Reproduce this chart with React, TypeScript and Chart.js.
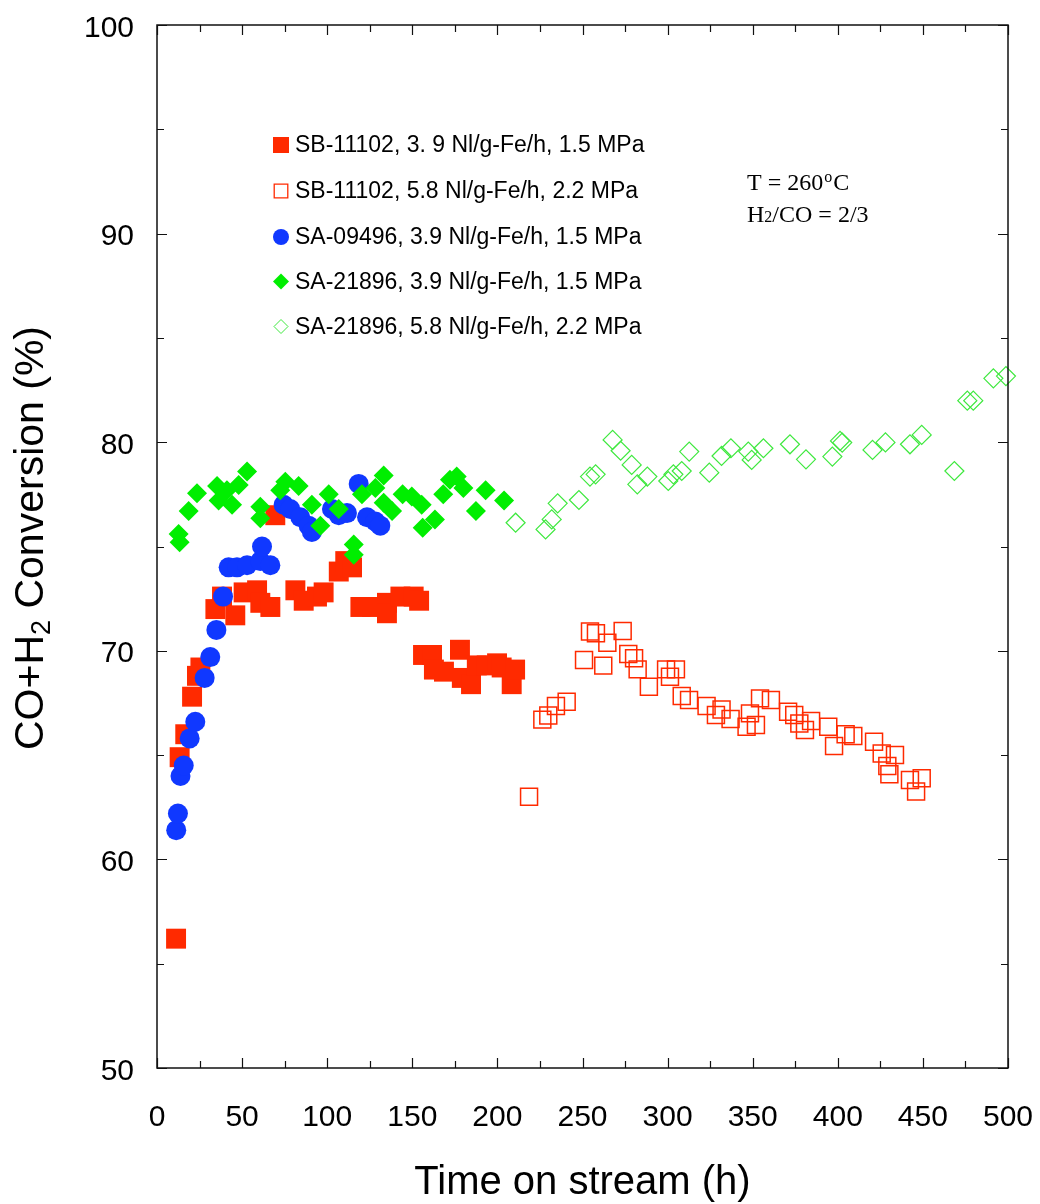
import React, { useEffect, useRef } from "react";
import { Chart, registerables } from "chart.js";

Chart.register(...registerables);

// ---------- data ----------
const xTicks = [0, 50, 100, 150, 200, 250, 300, 350, 400, 450, 500];
const yTicks = [50, 60, 70, 80, 90, 100];

const legendLabels = [
  "SB-11102, 3. 9 Nl/g-Fe/h, 1.5 MPa",
  "SB-11102, 5.8 Nl/g-Fe/h, 2.2 MPa",
  "SA-09496, 3.9 Nl/g-Fe/h, 1.5 MPa",
  "SA-21896, 3.9 Nl/g-Fe/h, 1.5 MPa",
  "SA-21896, 5.8 Nl/g-Fe/h, 2.2 MPa",
];

// SB-11102, 3.9 Nl/g-Fe/h, 1.5 MPa (filled red squares)
const sbLowX = [11.2, 13.3, 16.6, 20.6, 23.5, 25.5, 34.3, 38.2, 46.0, 50.9, 58.8, 60.7, 66.6, 69.5, 81.3, 86.2, 94.0, 97.9, 106.8, 110.6, 114.6, 119.5, 126.3, 135.1, 135.1, 143.0, 150.8, 154.0, 156.3, 161.6, 162.7, 168.6, 178.0, 179.1, 184.5, 187.9, 193.7, 199.8, 202.5, 208.4, 210.4];
const sbLowY = [56.2, 64.9, 66.0, 67.8, 68.8, 69.2, 72.0, 72.6, 71.7, 72.8, 72.9, 72.3, 72.1, 76.5, 72.9, 72.4, 72.6, 72.8, 73.8, 74.3, 74.0, 72.1, 72.1, 72.3, 71.8, 72.6, 72.6, 72.4, 69.8, 69.8, 69.1, 69.0, 70.05, 68.7, 68.4, 69.3, 69.3, 69.4, 69.2, 68.4, 69.1];

// SB-11102, 5.8 Nl/g-Fe/h, 2.2 MPa (open red squares)
const sbHighX = [218.6, 226.4, 229.9, 234.4, 240.7, 250.9, 254.4, 257.9, 262.2, 264.6, 273.6, 276.9, 280.3, 282.4, 289.0, 299.1, 301.4, 304.9, 308.3, 312.6, 322.9, 328.4, 331.7, 337.0, 346.4, 348.4, 351.9, 354.3, 360.7, 370.8, 374.4, 377.4, 380.7, 384.3, 394.4, 397.8, 404.6, 409.1, 421.3, 425.8, 433.6, 429.1, 430.3, 442.4, 449.3, 446.0];
const sbHighY = [63.0, 66.7, 66.9, 67.35, 67.56, 69.56, 70.92, 70.84, 69.29, 70.39, 70.95, 69.85, 69.64, 69.11, 68.28, 69.11, 68.76, 69.11, 67.83, 67.64, 67.35, 66.92, 67.19, 66.73, 66.36, 67.0, 66.44, 67.72, 67.64, 67.08, 66.92, 66.52, 66.2, 66.63, 66.36, 65.44, 66.0, 65.92, 65.64, 65.08, 65.0, 64.48, 64.08, 63.81, 63.89, 63.25];

// SA-09496, 3.9 Nl/g-Fe/h, 1.5 MPa (blue circles)
const sa09X = [11.3, 12.3, 13.8, 15.7, 19.2, 22.5, 28.0, 31.3, 34.9, 38.8, 42.1, 47.0, 52.9, 60.7, 61.7, 66.6, 74.4, 78.3, 84.2, 89.1, 91.0, 102.8, 106.8, 111.6, 118.5, 123.4, 128.3, 131.2];
const sa09Y = [61.4, 62.2, 64.0, 64.5, 65.8, 66.6, 68.7, 69.7, 71.0, 72.6, 74.0, 74.0, 74.1, 74.3, 75.0, 74.1, 77.0, 76.8, 76.4, 76.0, 75.7, 76.8, 76.5, 76.6, 78.0, 76.4, 76.2, 76.0];

// SA-21896, 3.9 Nl/g-Fe/h, 1.5 MPa (filled green diamonds)
const sa21LowX = [12.7, 13.3, 18.6, 23.5, 35.3, 36.2, 41.1, 44.1, 48.0, 52.9, 60.7, 60.7, 72.4, 75.4, 83.2, 91.0, 96.0, 100.9, 106.8, 115.6, 115.6, 120.4, 128.3, 133.2, 133.2, 138.1, 144.3, 149.7, 155.5, 156.1, 163.3, 168.2, 172.1, 176.1, 180.0, 187.4, 193.1, 203.9];
const sa21LowY = [75.6, 75.2, 76.7, 77.55, 77.9, 77.2, 77.7, 77.0, 77.95, 78.6, 76.9, 76.35, 77.7, 78.1, 77.9, 77.0, 76.0, 77.5, 76.8, 75.1, 74.6, 77.5, 77.8, 78.4, 77.1, 76.7, 77.5, 77.4, 77.0, 75.9, 76.3, 77.5, 78.2, 78.35, 77.8, 76.7, 77.7, 77.2];

// SA-21896, 5.8 Nl/g-Fe/h, 2.2 MPa (open green diamonds)
const sa21HighX = [210.7, 228.3, 231.9, 235.4, 247.9, 254.4, 257.7, 267.7, 272.4, 278.9, 282.2, 288.1, 300.4, 303.4, 308.3, 312.7, 324.5, 331.7, 337.2, 347.4, 349.4, 356.3, 371.9, 381.3, 396.8, 401.3, 402.6, 420.4, 428.0, 442.4, 449.3, 468.5, 476.1, 479.6, 491.4, 498.8];
const sa21HighY = [76.14, 75.82, 76.3, 77.07, 77.23, 78.35, 78.46, 80.11, 79.59, 78.91, 77.98, 78.35, 78.14, 78.46, 78.62, 79.55, 78.54, 79.34, 79.71, 79.55, 79.15, 79.71, 79.9, 79.18, 79.31, 80.06, 79.98, 79.63, 79.99, 79.9, 80.35, 78.62, 81.99, 81.99, 83.06, 83.17];

// ---------- styling ----------
const W = 1040;
const H = 1204;
const AREA = { left: 157, right: 1008, top: 25, bottom: 1068 };
const SANS = '"Liberation Sans", Arial, sans-serif';
const SERIF = '"Liberation Serif", "Times New Roman", serif';
const RED = "#ff2a00";
const BLUE = "#1038ff";
const GREEN = "#00ee00";
const LGREEN = "#3ee83e";

const pts = (xs: number[], ys: number[]) => xs.map((x, i) => ({ x, y: ys[i] }));

const legendStyles = [
  { style: "rect", r: 11.3, fill: RED, stroke: RED, bw: 0 },
  { style: "rect", r: 9.6, fill: "#ffffff", stroke: RED, bw: 1.3 },
  { style: "circle", r: 8, fill: BLUE, stroke: BLUE, bw: 0 },
  { style: "rectRot", r: 8, fill: GREEN, stroke: GREEN, bw: 0 },
  { style: "rectRot", r: 7, fill: "#ffffff", stroke: LGREEN, bw: 1 },
];

const decorPlugin = {
  id: "decor",
  afterDraw(chart: any) {
    const ctx: CanvasRenderingContext2D = chart.ctx;
    const xs = chart.scales.x;
    const ys = chart.scales.y;
    const { left, right, top, bottom } = chart.chartArea;
    ctx.save();

    // frame
    ctx.strokeStyle = "#111";
    ctx.lineWidth = 1.5;
    ctx.strokeRect(left, top, right - left, bottom - top);

    // ticks (inside, all four sides)
    ctx.lineWidth = 1.2;
    ctx.beginPath();
    for (let v = 0; v <= 500; v += 25) {
      const p = Math.round(xs.getPixelForValue(v)) + 0.5;
      const len = v % 50 === 0 ? 10 : 7;
      ctx.moveTo(p, bottom);
      ctx.lineTo(p, bottom - len);
      ctx.moveTo(p, top);
      ctx.lineTo(p, top + len);
    }
    for (let v = 50; v <= 100; v += 5) {
      const p = Math.round(ys.getPixelForValue(v)) + 0.5;
      const len = v % 10 === 0 ? 10 : 7;
      ctx.moveTo(left, p);
      ctx.lineTo(left + len, p);
      ctx.moveTo(right, p);
      ctx.lineTo(right - len, p);
    }
    ctx.stroke();

    // tick labels
    ctx.fillStyle = "#000";
    ctx.font = `30px ${SANS}`;
    ctx.textBaseline = "alphabetic";
    ctx.textAlign = "center";
    xTicks.forEach((v) => {
      ctx.fillText(String(v), xs.getPixelForValue(v), 1126);
    });
    ctx.textAlign = "right";
    yTicks.forEach((v) => {
      ctx.fillText(String(v), 134, ys.getPixelForValue(v) + 11.5);
    });

    // x title
    ctx.textAlign = "center";
    ctx.font = `40px ${SANS}`;
    ctx.fillText("Time on stream (h)", (left + right) / 2, 1194);

    // y title with subscript
    ctx.save();
    ctx.translate(43, 538);
    ctx.rotate(-Math.PI / 2);
    ctx.textAlign = "left";
    const big = `41px ${SANS}`;
    const small = `27px ${SANS}`;
    const s1 = "CO+H";
    const s2 = "2";
    const s3 = " Conversion (%)";
    ctx.font = big;
    const w1 = ctx.measureText(s1).width;
    const w3 = ctx.measureText(s3).width;
    ctx.font = small;
    const w2 = ctx.measureText(s2).width;
    const start = -(w1 + w2 + w3) / 2;
    ctx.font = big;
    ctx.fillText(s1, start, 0);
    ctx.font = small;
    ctx.fillText(s2, start + w1, 7);
    ctx.font = big;
    ctx.fillText(s3, start + w1 + w2, 0);
    ctx.restore();

    // legend
    const rowsY = [145, 191, 237, 281.5, 326.5];
    legendLabels.forEach((label, i) => {
      const st = legendStyles[i];
      const y = rowsY[i];
      ctx.save();
      ctx.beginPath();
      const cx = 281;
      if (st.style === "rect") {
        const s = st.r * Math.SQRT1_2;
        ctx.rect(cx - s, y - s, 2 * s, 2 * s);
      } else if (st.style === "circle") {
        ctx.arc(cx, y, st.r, 0, Math.PI * 2);
      } else {
        ctx.moveTo(cx - st.r, y);
        ctx.lineTo(cx, y - st.r);
        ctx.lineTo(cx + st.r, y);
        ctx.lineTo(cx, y + st.r);
        ctx.closePath();
      }
      ctx.fillStyle = st.fill;
      ctx.fill();
      if (st.bw > 0) {
        ctx.lineWidth = st.bw;
        ctx.strokeStyle = st.stroke;
        ctx.stroke();
      }
      ctx.restore();
      ctx.fillStyle = "#000";
      ctx.font = `23px ${SANS}`;
      ctx.textAlign = "left";
      ctx.textBaseline = "middle";
      ctx.fillText(label, 295, y + 1);
    });

    // annotation
    ctx.textBaseline = "alphabetic";
    ctx.textAlign = "left";
    ctx.fillStyle = "#000";
    const serif = `24px ${SERIF}`;
    const serifSmall = `16px ${SERIF}`;
    let x = 747;
    ctx.font = serif;
    const a1 = "T = 260";
    ctx.fillText(a1, x, 190);
    x += ctx.measureText(a1).width + 1;
    ctx.font = serifSmall;
    ctx.fillText("o", x, 182);
    x += ctx.measureText("o").width + 1;
    ctx.font = serif;
    ctx.fillText("C", x, 190);

    x = 747;
    ctx.font = serif;
    ctx.fillText("H", x, 222);
    x += ctx.measureText("H").width;
    ctx.font = serifSmall;
    ctx.fillText("2", x, 222);
    x += ctx.measureText("2").width;
    ctx.font = serif;
    ctx.fillText("/CO = 2/3", x, 222);

    ctx.restore();
  },
};

export default function App() {
  const canvasRef = useRef<HTMLCanvasElement | null>(null);

  useEffect(() => {
    const canvas = canvasRef.current;
    if (!canvas) return;
    const chart = new Chart(canvas, {
      type: "scatter",
      data: {
        datasets: [
          {
            label: legendLabels[0],
            data: pts(sbLowX, sbLowY),
            pointStyle: "rect",
            pointRadius: 14.1,
            backgroundColor: RED,
            borderColor: RED,
            pointBorderWidth: 0,
            clip: false,
            order: 5,
          },
          {
            label: legendLabels[1],
            data: pts(sbHighX, sbHighY),
            pointStyle: "rect",
            pointRadius: 12,
            backgroundColor: "rgba(255,255,255,0)",
            borderColor: RED,
            pointBorderWidth: 1.5,
            clip: false,
            order: 4,
          },
          {
            label: legendLabels[2],
            data: pts(sa09X, sa09Y),
            pointStyle: "circle",
            pointRadius: 10,
            backgroundColor: BLUE,
            borderColor: BLUE,
            pointBorderWidth: 0,
            clip: false,
            order: 3,
          },
          {
            label: legendLabels[3],
            data: pts(sa21LowX, sa21LowY),
            pointStyle: "rectRot",
            pointRadius: 10,
            backgroundColor: GREEN,
            borderColor: GREEN,
            pointBorderWidth: 0,
            clip: false,
            order: 2,
          },
          {
            label: legendLabels[4],
            data: pts(sa21HighX, sa21HighY),
            pointStyle: "rectRot",
            pointRadius: 9.5,
            backgroundColor: "rgba(255,255,255,0)",
            borderColor: LGREEN,
            pointBorderWidth: 1.2,
            clip: false,
            order: 1,
          },
        ],
      },
      options: {
        responsive: false,
        animation: false,
        devicePixelRatio: 1,
        layout: { padding: { top: AREA.top, right: W - AREA.right, left: 0, bottom: 0 } },
        plugins: {
          legend: { display: false },
          tooltip: { enabled: false },
        },
        scales: {
          x: {
            type: "linear",
            min: 0,
            max: 500,
            ticks: { display: false },
            grid: { display: false, drawTicks: false },
            border: { display: false },
            afterFit: (s: any) => {
              s.height = H - AREA.bottom;
            },
          },
          y: {
            type: "linear",
            min: 50,
            max: 100,
            ticks: { display: false },
            grid: { display: false, drawTicks: false },
            border: { display: false },
            afterFit: (s: any) => {
              s.width = AREA.left;
            },
          },
        },
      },
      plugins: [decorPlugin],
    } as any);
    return () => chart.destroy();
  }, []);

  return (
    <div style={{ position: "absolute", left: 0, top: 0, width: W, height: H, background: "#fff" }}>
      <canvas ref={canvasRef} width={W} height={H} style={{ display: "block", width: W, height: H }} />
    </div>
  );
}
